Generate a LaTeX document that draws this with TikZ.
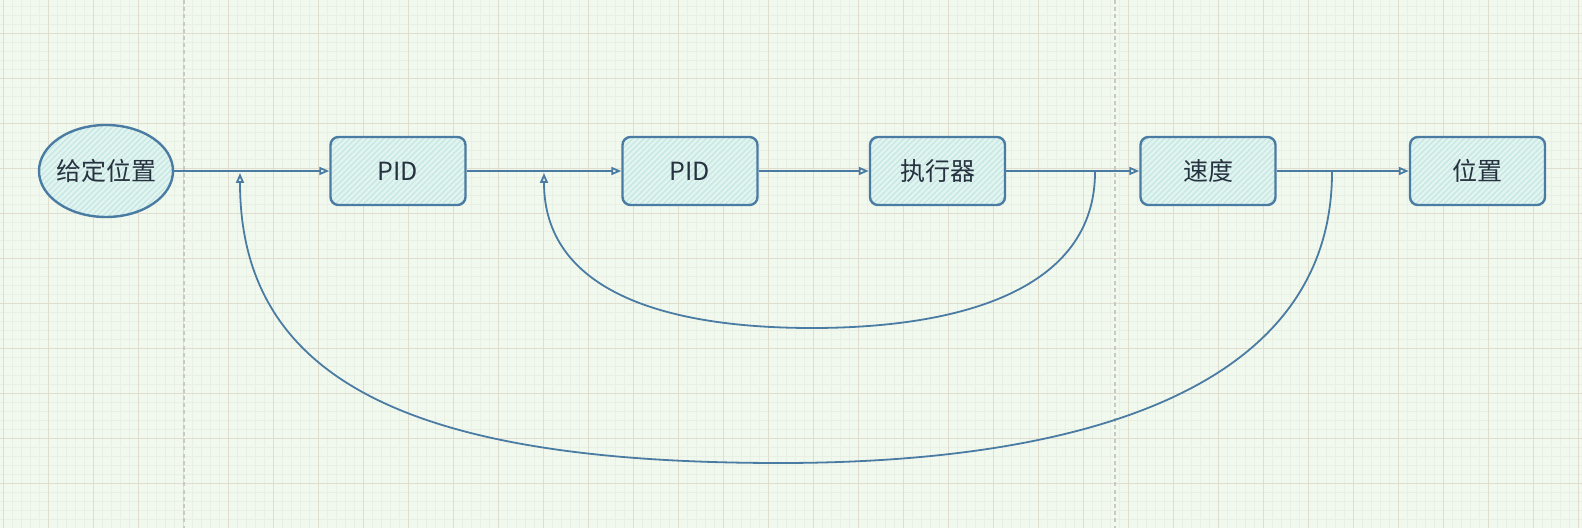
\documentclass[tikz,border=0pt]{standalone}
\usepackage{fontspec}
\newfontfamily\cjk{Noto Sans CJK SC}
\usepackage{tikz}
\usetikzlibrary{shapes.geometric,arrows.meta,patterns.meta}
\definecolor{paper}{HTML}{F1F9EE}
\definecolor{minorln}{HTML}{E8F0E3}
\definecolor{majorln}{HTML}{E0DCCE}
\definecolor{pagebrk}{HTML}{C8C8C4}
\definecolor{pen}{HTML}{4A7BA3}
\definecolor{ink}{HTML}{26323F}
\definecolor{boxfill}{HTML}{E2F4EF}
\definecolor{hatch}{HTML}{C4E7E3}

\begin{document}
\begin{tikzpicture}[x=0.5pt,y=-0.5pt,>={Triangle[open,length=5pt,width=4pt]},
		font={\cjk\fontsize{12.5pt}{15pt}\selectfont},
		minor/.style={draw=minorln,line width=0.4pt},
		major/.style={draw=majorln,line width=0.5pt},
		blk/.style={draw=pen,line width=1.2pt,text=ink,
			preaction={fill=boxfill},
			preaction={pattern={Lines[angle=45,distance=2pt,line width=0.6pt]},pattern color=hatch}},
		box/.style={blk,rectangle,rounded corners=4pt,minimum width=67.5pt,minimum height=34pt,inner sep=0pt},
		oval/.style={blk,ellipse,minimum width=67pt,minimum height=46pt,inner xsep=-3pt,inner ysep=0pt},
		link/.style={draw=pen,line width=0.9pt},
	]
		% paper and grid
		\useasboundingbox (0,0) rectangle (1582,528);
		\fill[paper] (0,0) rectangle (1582,528);
		\foreach \gx in {3.3,12.3,...,1582} \draw[minor] (\gx,0) -- (\gx,528);
		\foreach \gy in {6.3,15.3,...,528} \draw[minor] (0,\gy) -- (1582,\gy);
		\foreach \gx in {3.3,48.3,...,1582} \draw[major] (\gx,0) -- (\gx,528);
		\foreach \gy in {33.3,78.3,...,528} \draw[major] (0,\gy) -- (1582,\gy);
		\draw[pagebrk,line width=0.75pt,dash pattern=on 2pt off 1.6pt] (184,0) -- (184,528);
		\draw[pagebrk,line width=0.75pt,dash pattern=on 2pt off 1.6pt] (1115,0) -- (1115,528);

		\node[oval] (set) at (106,171) {给定位置};
		\node[box] (pidp) at (398,171) {PID};
		\node[box] (pidv) at (690,171) {PID};
		\node[box] (act) at (937.5,171) {执行器};
		\node[box] (vel) at (1208,171) {速度};
		\node[box] (pos) at (1477.5,171) {位置};

		\coordinate (sum2) at (240,173);
		\coordinate (sum1) at (544,173);
		\coordinate (tap1) at (1095,172);
		\coordinate (tap2) at (1332,172);
		\coordinate (low1) at (812,328);
		\coordinate (low2) at (780,463);

		\path[link,->]
			(set) edge (pidp)
			(pidp) edge (pidv)
			(pidv) edge (act)
			(act) edge (vel)
			(vel) edge (pos)
		;
		% feedback loops
		\draw[link,->] (tap1) .. controls +(0,118) and +(148,0) .. (low1)
			.. controls +(-152,0) and +(0,116) .. (sum1);
		\draw[link,->] (tap2) .. controls +(0,218) and +(300,0) .. (low2)
			.. controls +(-360,0) and +(0,212) .. (sum2);
	\end{tikzpicture}
\end{document}
